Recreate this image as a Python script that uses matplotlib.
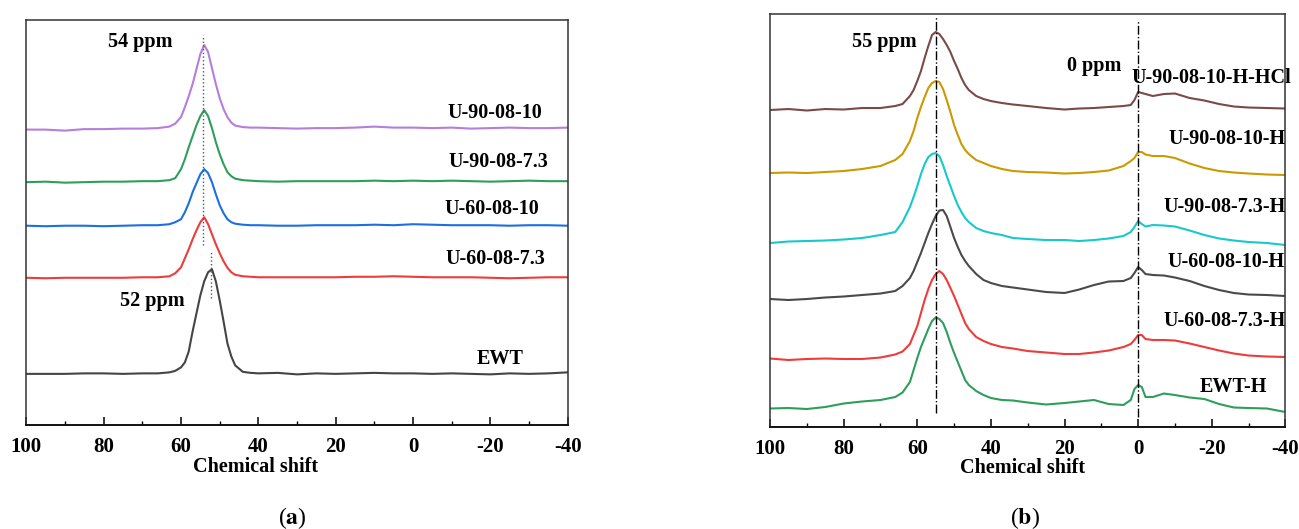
import numpy as np
import matplotlib
matplotlib.use("Agg")
import matplotlib.pyplot as plt

plt.rcParams["font.family"] = ["Liberation Serif", "DejaVu Serif"]
plt.rcParams["font.weight"] = "bold"
plt.rcParams["axes.unicode_minus"] = False
plt.rcParams["mathtext.fontset"] = "stix"

# ---- panel (a): chemical shift grid (ppm) and traces (offset intensity, arb. units)
shift_a = [100, 95, 90, 85, 80, 75, 70, 66, 63, 61.5, 60, 59, 58, 57, 56, 55, 54, 53, 52, 51,
           50, 49, 48, 47, 46, 44, 42, 40, 35, 30, 25, 20, 15, 10, 5, 0, -5, -10, -15, -20,
           -25, -30, -35, -40]

u90_08_10 = [295.5, 295.5, 294.5, 296, 296, 296.5, 296.5, 297, 298.5, 301.5, 308, 318, 329, 341,
             356, 371, 380, 373, 357, 341, 327, 316, 308, 302.5, 299.5, 298, 297.5, 297.5, 297,
             296.5, 297, 297, 297.5, 298.5, 297.5, 297.5, 297, 297.5, 296.5, 297, 297.5, 297,
             297, 297.5]
u90_08_73 = [243, 243.5, 242.5, 243, 243.5, 243.5, 244, 244, 245, 247, 256, 266, 278, 289, 300,
             309, 315, 309, 297, 283, 271, 261, 253, 249, 246.5, 245, 244.5, 244, 243.5, 244,
             244, 244, 244, 244.5, 244, 244.5, 244, 244.5, 244, 243.5, 244, 244.5, 244, 244]
u60_08_10 = [199.5, 199, 199.5, 199.5, 199, 199.5, 200, 200, 201, 203, 206, 213, 222, 233, 242,
             251, 256, 252, 243, 231, 220, 212, 206, 203, 201.5, 200.5, 200, 200, 199.5, 199.5,
             200, 200, 200, 200.5, 200, 201, 200.5, 200, 200, 200, 199.5, 200, 200, 199.5]
u60_08_73 = [147.5, 147, 147.5, 147.5, 147.5, 147.5, 148, 148, 149, 152, 158, 167, 176, 186, 195,
             203, 208, 201, 191, 181, 172, 164, 157.5, 153, 150.5, 149, 148.5, 148, 148, 148,
             148, 148, 148.5, 148.5, 149, 148.5, 148, 148, 148, 147.5, 147, 147.5, 148, 148]
ewt = [51.5, 51.5, 51.5, 52, 52, 51.5, 52, 52, 53, 54.5, 58, 63, 74, 94, 112, 130, 144, 153,
       156, 144, 125, 104, 82, 69, 60, 53.5, 52.5, 52, 52.5, 51, 52, 51.5, 52, 52.5, 52, 52,
       51.5, 52, 51.5, 51, 52, 51.5, 52, 53]

series_a = [u90_08_10, u90_08_73, u60_08_10, u60_08_73, ewt]
labels_a = ["U-90-08-10", "U-90-08-7.3", "U-60-08-10", "U-60-08-7.3", "EWT"]
colors_a = ["#B57EDC", "#2E9E5B", "#1C6FE3", "#EE3B3B", "#454545"]
label_pos_a = [(-21.1, 312), (-22.0, 263), (-20.4, 216), (-21.2, 166), (-22.5, 66)]

# ---- panel (b)
shift_b = [100, 95, 90, 85, 80, 75, 70, 66, 64, 62, 61, 60, 59, 58, 57, 56, 55, 54, 53, 52, 51,
           50, 49, 48, 47, 46, 44, 42, 40, 37, 34, 30, 25, 20, 16, 12, 8, 4, 2, 1, 0, -1, -2,
           -4, -7, -10, -14, -18, -22, -26, -30, -35, -40]

u90_08_10_h_hcl = [317, 318, 316.5, 318, 317.5, 319, 319, 321, 323, 331, 337, 346, 356, 369, 381,
                   392, 395, 393, 388, 382, 375, 366, 358, 349, 342, 337, 331, 328, 326, 324,
                   322.5, 321, 319, 317.5, 318.5, 319, 320, 321, 322, 327, 335, 334, 333, 331,
                   333, 333.5, 329, 326.5, 323, 320.5, 319.5, 319, 318.5]
u90_08_10_h = [254, 254.5, 254, 255, 256, 258, 261, 267, 273, 286, 296, 309, 320, 330, 339, 344,
               346, 345, 338, 327, 315, 302, 292, 283, 277, 273, 267, 264, 261, 258, 256, 255,
               254.5, 253.5, 254, 255, 256.5, 261, 266, 269, 275, 275, 272.5, 271, 271, 269,
               263.5, 259, 256, 254.5, 253.5, 252.5, 252]
u90_08_73_h = [184, 185.5, 186, 186.5, 187.5, 189, 192, 195, 205, 220, 230, 241, 253, 263, 270,
               273, 274, 271, 262, 251, 241, 231, 222, 215, 209, 205, 199, 196, 194, 192, 189,
               188, 187, 187, 186, 187, 188.5, 191, 195, 200, 206, 203, 200.5, 202, 201.5,
               200.5, 196.5, 192, 188.5, 186.5, 185, 184, 182]
u60_08_10_h = [128, 127, 128, 129.5, 130.5, 132, 133.5, 136, 141, 149, 156, 165, 174, 184, 194,
               203, 211, 216.5, 217, 211, 200, 189, 180, 172, 166, 161, 153, 147, 144, 141,
               139.5, 137.5, 135, 134, 137.5, 142, 145.5, 146, 149, 154, 160, 157, 153, 152,
               151.5, 149.5, 146, 141, 137, 134, 132.5, 132, 131]
u60_08_73_h = [68.5, 67, 68, 68.5, 68, 68, 69.5, 72.5, 75.5, 83, 92, 101, 114, 127, 138, 147,
               153, 156, 153, 147, 139, 131, 122, 113, 104, 98, 90, 86, 83, 80, 78.5, 76, 74.5,
               73, 73, 74.5, 76.5, 80, 83, 87, 92, 92, 88, 87, 87, 86.5, 83.5, 80, 76.5, 73.5,
               71.5, 70.5, 70]
ewt_h = [18.5, 19, 18, 20, 23.5, 25.5, 27, 30, 34.5, 45, 57, 69, 80, 89, 98, 106, 109.5, 108,
         104, 95, 84, 74, 65, 56, 47, 42, 36, 32, 29, 27, 26.5, 24.5, 22.5, 24, 25.5, 27, 23,
         22, 27, 38, 42, 40, 30, 30, 33.5, 32, 29.5, 28, 23, 19.5, 19, 18.5, 15]

series_b = [u90_08_10_h_hcl, u90_08_10_h, u90_08_73_h, u60_08_10_h, u60_08_73_h, ewt_h]
labels_b = ["U-90-08-10-H-HCl", "U-90-08-10-H", "U-90-08-7.3-H", "U-60-08-10-H",
            "U-60-08-7.3-H", "EWT-H"]
colors_b = ["#7A4A4A", "#CC9900", "#17C8CC", "#4A4A4A", "#EE3B3B", "#2E9E5B"]
label_pos_b = [(-20.0, 349), (-24.2, 288), (-23.5, 220), (-23.8, 165), (-23.5, 106), (-26.0, 40)]


fig = plt.figure(figsize=(12.99, 5.29), dpi=100)
ax_a = fig.add_axes([0.0203, 0.1958, 0.4167, 0.7664])
ax_b = fig.add_axes([0.5928, 0.1928, 0.3967, 0.7807])


def style_axis(ax, top):
    ax.set_xlim(100, -40)
    ax.set_ylim(0, top)
    ax.set_xticks(np.arange(100, -41, -20))
    ax.set_xticks(np.arange(100, -41, -10), minor=True)
    ax.set_yticks([])
    ax.tick_params(axis="x", which="major", direction="in", length=5.5, width=1.1,
                   labelsize=15, pad=8.5, top=False)
    ax.tick_params(axis="x", which="minor", direction="in", length=2.7, width=1.0, top=False)
    for side in ["left", "right", "top", "bottom"]:
        ax.spines[side].set_linewidth(1.1)
        ax.spines[side].set_color("#333333")
    ax.spines["bottom"].set_linewidth(1.4)
    ax.spines["bottom"].set_color("#111111")
    for lbl in ax.get_xticklabels():
        lbl.set_fontweight("bold")


# panel (a)
for vals, color in zip(series_a, colors_a):
    ax_a.plot(shift_a, vals, color=color, lw=1.5)
for name, (px, py) in zip(labels_a, label_pos_a):
    ax_a.text(px, py, name, ha="center", va="center", fontsize=14.5, fontweight="bold")
ax_a.plot([54.2, 54.2], [180, 390], color="#555555", lw=1, ls=":")
ax_a.plot([52.3, 52.3], [127, 173], color="#555555", lw=1, ls=":")
ax_a.text(70.6, 383, "54 ppm", ha="center", va="center", fontsize=14.5, fontweight="bold")
ax_a.text(67.3, 124, "52 ppm", ha="center", va="center", fontsize=14.5, fontweight="bold")
style_axis(ax_a, 405)
ax_a.set_xlabel("Chemical shift", fontsize=14.5, fontweight="bold", labelpad=0)
ax_a.xaxis.set_label_coords(0.4225, -0.078)

# panel (b)
for vals, color in zip(series_b, colors_b):
    ax_b.plot(shift_b, vals, color=color, lw=1.5)
for name, (px, py) in zip(labels_b, label_pos_b):
    ax_b.text(px, py, name, ha="center", va="center", fontsize=14.5, fontweight="bold",
              clip_on=False)
ax_b.plot([55, 55], [14, 410], color="black", lw=1, ls="-.")
ax_b.plot([0, 0], [10, 407], color="black", lw=1, ls="-.")
ax_b.text(69.0, 385, "55 ppm", ha="center", va="center", fontsize=14.5, fontweight="bold")
ax_b.text(12.0, 361, "0 ppm", ha="center", va="center", fontsize=14.5, fontweight="bold")
style_axis(ax_b, 413)
ax_b.set_xlabel("Chemical shift", fontsize=14.5, fontweight="bold", labelpad=0)
ax_b.xaxis.set_label_coords(0.49, -0.076)

fig.text(292 / 1299, 1 - 518 / 529, r"($\mathbf{a}$)", ha="center", va="center",
         fontsize=17, fontweight="normal")
fig.text(1025 / 1299, 1 - 518 / 529, r"($\mathbf{b}$)", ha="center", va="center",
         fontsize=17, fontweight="normal")

fig.savefig("out.png", dpi=100)
